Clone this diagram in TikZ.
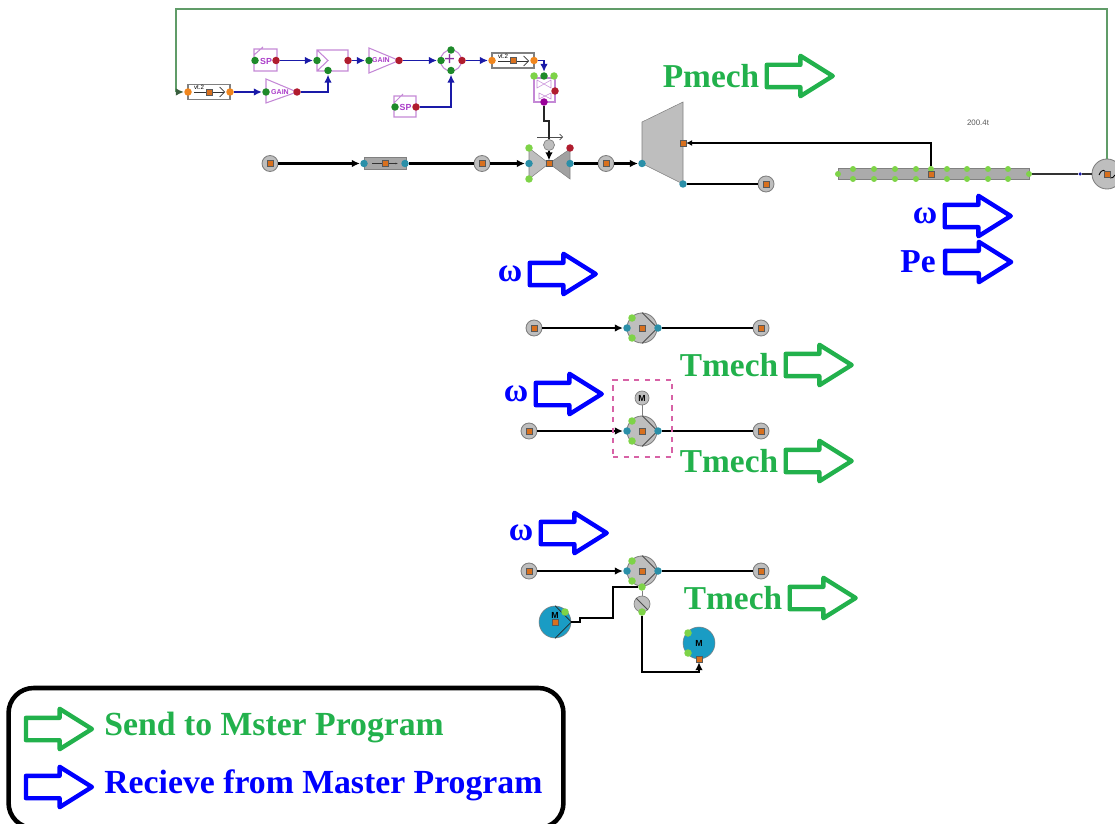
\documentclass[tikz,border=0pt]{standalone}
\usepackage{fontspec}
\setmainfont{Liberation Serif}
\newfontfamily\blockfont{Liberation Sans}
\definecolor{sendgreen}{RGB}{34,177,76}
\definecolor{recvblue}{RGB}{0,0,255}
\definecolor{linkblue}{RGB}{26,26,168}
\definecolor{fbgreen}{RGB}{96,156,104}
\definecolor{blockpurple}{RGB}{196,136,214}
\definecolor{blocktextpurple}{RGB}{170,60,200}
\definecolor{comptgray}{RGB}{190,190,190}
\definecolor{sqorange}{RGB}{216,112,30}
\definecolor{portorange}{RGB}{240,134,30}
\definecolor{portteal}{RGB}{42,143,168}
\definecolor{portred}{RGB}{176,28,46}
\definecolor{portgreen}{RGB}{30,138,42}
\definecolor{portlime}{RGB}{126,211,72}
\definecolor{motorblue}{RGB}{26,156,196}
\usetikzlibrary{calc, positioning, arrows.meta, shapes.arrows}
\begin{document}
\begin{tikzpicture}[x=0.02cm, y=-0.02cm,
    sendarrow/.style={single arrow, draw=sendgreen, line width=4.4*0.567pt, fill=white, minimum height=1.32cm,
      minimum width=0.72cm, inner xsep=0pt, inner ysep=0.18cm, single arrow head extend=0.18cm,
      single arrow tip angle=64, line join=round},
    recvarrow/.style={sendarrow, draw=recvblue},
    sendtext/.style={font=\bfseries\fontsize{19}{21}\selectfont, text=sendgreen, inner sep=0pt},
    recvtext/.style={sendtext, text=recvblue},
    bus/.style={circle, fill=comptgray, draw=gray, line width=0.5pt, minimum size=0.32cm, inner sep=0pt},
    machine/.style={circle, fill=comptgray, draw=gray, line width=0.5pt, minimum size=0.6cm, inner sep=0pt},
    sq/.style={rectangle, fill=sqorange, draw=gray!70!black, line width=0.2pt, minimum size=0.12cm, inner sep=0pt},
    port/.style={circle, fill=#1, minimum size=0.15cm, inner sep=0pt},
    blockbox/.style={draw=blockpurple, line width=0.6pt},
    vtbox/.style={draw=gray, fill=white, line width=0.6pt, minimum width=0.84cm, minimum height=0.3cm, inner sep=0pt},
    blocktext/.style={font=\blockfont\bfseries\fontsize{4}{4}\selectfont, text=blocktextpurple, inner sep=0pt},
    sptext/.style={font=\blockfont\bfseries\fontsize{5}{5}\selectfont, text=blocktextpurple, inner sep=0pt},
    mlabel/.style={font=\blockfont\bfseries\fontsize{5}{5}\selectfont, inner sep=0pt},
    ctrl/.style={draw=linkblue, line width=0.9pt, -{Latex[length=0.16cm, width=0.15cm]}},
    flow/.style={draw=black, line width=1.2pt, -{Latex[length=0.16cm, width=0.15cm]}},
    plain/.style={draw=black, line width=1.2pt},
  ]
    \clip (0,0) rectangle (1115,824);

    \foreach \nm/\x/\y in {busa/270/163.5, busb/482/163.5, busc/606/163.5, busd/766/184, buse/534/328, busf/761/328,
        busg/529/431, bush/761/431, busi/529/571, busj/761/571} {
      \node[bus] (\nm) at (\x,\y) {};
      \node[sq] (\nm sq) at (\nm) {};
    }

    \node[draw=gray, fill=gray!70, line width=0.5pt, minimum width=0.84cm, minimum height=0.24cm, inner sep=0pt] (pipe) at (385,163.5) {};
    \draw[gray!40!black, line width=0.3pt, -{Latex[length=0.05cm]}] (372,163.5) -- (398,163.5);
    \node[sq] (pipesq) at (385,163.5) {};
    \node[port=portteal] (pipein) at (364,163.5) {};
    \node[port=portteal] (pipeout) at (405,163.5) {};

    \fill[comptgray, draw=gray, line width=0.3pt] (529,148) -- (549,163.5) -- (529,179) -- cycle;
    \fill[comptgray!85!black, draw=gray, line width=0.3pt] (570,149) -- (549,163.5) -- (570,179) -- cycle;
    \node[sq] (valvesq) at (549,163.5) {};
    \node[port=portteal] (valvein) at (529,163.5) {};
    \node[port=portteal] (valveout) at (570,163.5) {};
    \node[port=portlime] (valvela) at (529,148) {};
    \node[port=portlime] (valvelb) at (529,179) {};
    \node[port=portred] (valver) at (570,148) {};
    \node[circle, fill=comptgray, draw=gray, line width=0.4pt, minimum size=0.22cm, inner sep=0pt] (actuator) at (549,145) {};
    \coordinate (actl) at (537,137);
    \coordinate (actr) at (563,137);
    \draw[gray!60!black, line width=0.4pt, -{Straight Barb[length=0.06cm]}] (actl) -- (actr);
    \draw[flow] (actuator) -- (valvesq);

    \fill[comptgray, draw=gray, line width=0.3pt] (642,122) -- (683,102) -- (683,184) -- (642,163.5) -- cycle;
    \node[port=portteal] (turbin) at (642,163.5) {};
    \node[port=portteal] (turbout) at (683,184) {};
    \node[sq] (turbsq) at (683,143) {};

    \draw[flow] (busa) -- (pipein);
    \draw[plain] (pipeout) -- (busb);
    \draw[flow] (busb) -- (valvein);
    \draw[plain] (valveout) -- (busc);
    \draw[flow] (busc) -- (turbin);
    \draw[plain] (turbout) -- (busd);

    \node[draw=gray, fill=comptgray!90!black, line width=0.3pt, minimum width=3.82cm, minimum height=0.22cm, inner sep=0pt] (shaft) at (933.5,174) {};
    \foreach \x in {853,874,895,916,947,967,988,1008} {
      \node[port=portlime, minimum size=0.12cm] (shafta\x) at (\x,169) {};
      \node[port=portlime, minimum size=0.12cm] (shaftb\x) at (\x,179) {};
    }
    \node[port=portlime, minimum size=0.12cm] (shaftl) at (838,174) {};
    \node[port=portlime, minimum size=0.12cm] (shaftr) at (1029,174) {};
    \node[port=portlime, minimum size=0.12cm] (shaftc) at (931,169) {};
    \node[sq] (shaftsq) at (931,174) {};
    \node[font=\blockfont\fontsize{4.5}{5}\selectfont, text=gray!70!black, inner sep=0pt] (speed) at (978,123) {200.4t};
    \coordinate (torquecorner) at (931,143);
    \draw[draw=black, line width=0.6pt, -{Latex[length=0.12cm, width=0.12cm]}] (shaftc) -- (torquecorner) -- (turbsq);

    \node[machine] (gen) at (1107,174) {};
    \node[circle, fill=linkblue, minimum size=0.07cm, inner sep=0pt] (genpt) at (1080,174) {};
    \draw[gray!40!black, line width=0.6pt] (shaftr) -- (genpt) -- (gen);
    \draw[black, line width=0.5pt] (1099,175) .. controls (1102,168) and (1105,170) .. (1107,174) .. controls (1109,178) and (1112,180) .. (1115,175);
    \node[sq] (gensq) at (gen) {};

    \coordinate (fbtop) at (1107,9);
    \coordinate (fbleft) at (176,9);
    \coordinate (fbdown) at (176,92);

    \node[vtbox] (vta) at (209,92) {};
    \node[font=\blockfont\fontsize{3.5}{4}\selectfont, inner sep=0pt] (vtatext) at (199,87) {vt.2};
    \draw[gray!40!black, line width=0.4pt, -{Straight Barb[length=0.1cm, width=0.2cm]}] (194,92) -- (225,92);
    \node[sq] (vtasq) at (vta) {};
    \node[port=portorange] (vtain) at (188,92) {};
    \node[port=portorange] (vtaout) at (230,92) {};
    \draw[fbgreen, line width=1.1pt] (gen.north) -- (fbtop) -- (fbleft) -- (fbdown);
    \draw[draw=fbgreen!60!black, line width=1pt, -{Latex[length=0.16cm, width=0.15cm]}] (fbdown) -- (vtain);

    \draw[blockbox] (266,79) -- (297,92) -- (266,103) -- cycle;
    \node[blocktext] (gainatext) at (280,92) {GAIN};
    \node[port=portgreen] (gainain) at (266,92) {};
    \node[port=portred] (gainaout) at (297,92) {};

    \draw[blockbox] (254,49) rectangle (277,71) (254,55) -- (263,47);
    \node[sptext] (spatext) at (266,61) {SP};
    \node[port=portgreen] (spaout0) at (255,60.5) {};
    \node[port=portred] (spaout) at (276,60.5) {};

    \draw[blockbox] (317,50) rectangle (348,71) (317,50) -- (328,60.5) -- (317,71);
    \node[port=portgreen] (selin) at (317,60.5) {};
    \node[port=portred] (selout) at (348,60.5) {};
    \node[port=portgreen] (selb) at (328,70.5) {};

    \draw[blockbox] (369,48) -- (399,60.5) -- (369,73) -- cycle;
    \node[blocktext] (gainbtext) at (381,60.5) {GAIN};
    \node[port=portgreen] (gainbin) at (369,60.5) {};
    \node[port=portred] (gainbout) at (399,60.5) {};

    \node[circle, draw=blockpurple, line width=0.6pt, minimum size=0.42cm, inner sep=0pt] (summer) at (451,60.5) {};
    \node[font=\bfseries\fontsize{11}{11}\selectfont, text=blocktextpurple!80!black, inner sep=0pt] (plus) at (449.5,60) {+};
    \node[port=portgreen] (sumin) at (441,60.5) {};
    \node[port=portred] (sumout) at (462,60.5) {};
    \node[port=portgreen] (sumtop) at (451,50) {};
    \node[port=portgreen] (sumb) at (451,70.5) {};

    \draw[blockbox] (394,96) rectangle (416,117) (394,103) -- (403,94);
    \node[sptext] (spbtext) at (405.5,107.5) {SP};
    \node[port=portgreen] (spbout0) at (395,107) {};
    \node[port=portred] (spbout) at (416,107) {};

    \node[vtbox] (vtb) at (513,60.5) {};
    \node[font=\blockfont\fontsize{3.5}{4}\selectfont, inner sep=0pt] (vtbtext) at (503,56) {vt.2};
    \draw[gray!40!black, line width=0.4pt, -{Straight Barb[length=0.1cm, width=0.2cm]}] (498,61) -- (529,61);
    \node[sq] (vtbsq) at (vtb) {};
    \node[port=portorange] (vtbin) at (492,60.5) {};
    \node[port=portorange] (vtbout) at (534,60.5) {};

    \draw[blockbox] (534,78) rectangle (555,102);
    \draw[blockpurple, line width=0.3pt] (537,80) -- (551,88) -- (551,80) -- (537,88) -- cycle (539,93) -- (551,99) -- (551,93) -- (539,99) -- cycle;
    \node[port=portlime] (valctla) at (534,76) {};
    \node[port=portlime] (valctlb) at (554,76) {};
    \node[port=portgreen] (valctlin) at (544,76) {};
    \node[port=portred] (valctlr) at (555,91) {};
    \node[port=violet!80!magenta] (valctlout) at (544,102) {};

    \draw[ctrl] (vtaout) -- (gainain);
    \draw[ctrl] (gainaout) -| (selb);
    \draw[ctrl] (spaout) -- (selin);
    \draw[ctrl] (selout) -- (gainbin);
    \draw[ctrl] (gainbout) -- (sumin);
    \draw[ctrl] (sumout) -- (vtbin);
    \draw[ctrl] (spbout) -| (sumb);
    \draw[ctrl] (vtbout) -| (valctlin);
    \coordinate (actbenda) at (544,121);
    \coordinate (actbendb) at (549,121);
    \draw[gray!30!black, line width=0.8pt] (valctlout) -- (actbenda) -- (actbendb) -- (actuator);

    \foreach \nm/\y in {mcha/328, mchb/431, mchc/571} {
      \node[machine] (\nm) at (642,\y) {};
      \draw[gray!60!black, line width=0.5pt] (\nm.north) -- (\nm.east) -- (\nm.south);
      \node[sq] (\nm sq) at (\nm) {};
      \node[port=portteal] (\nm in) at (627,\y) {};
      \node[port=portteal] (\nm out) at (658,\y) {};
      \node[port=portlime] (\nm a) at (632,\y-10) {};
      \node[port=portlime] (\nm b) at (632,\y+10) {};
    }
    \draw[flow] (buse) -- (mchain);
    \draw[plain] (mchaout) -- (busf);
    \draw[flow] (busg) -- (mchbin);
    \draw[plain] (mchbout) -- (bush);
    \draw[flow] (busi) -- (mchcin);
    \draw[plain] (mchcout) -- (busj);

    \node[draw=magenta!60!violet!70, dashed, line width=0.6pt, minimum width=1.18cm, minimum height=1.54cm, inner sep=0pt] (mchbframe) at (642.5,418.5) {};
    \node[circle, fill=comptgray, draw=gray, line width=0.4pt, minimum size=0.28cm, inner sep=0pt] (mchbm) at (642,398) {};
    \node[mlabel] (mchbmtext) at (mchbm) {M};
    \draw[gray, line width=0.5pt] (mchbm) -- (mchb);

    \coordinate (lnkd) at (613,587);
    \node[port=portlime] (mchcc) at (642,587) {};
    \node[circle, fill=comptgray, draw=gray, line width=0.4pt, minimum size=0.32cm, inner sep=0pt] (clutch) at (642,604) {};
    \draw[gray!60!black, line width=0.5pt] (clutch.north west) -- (clutch.south east);
    \node[port=portlime] (clutchb) at (642,612) {};
    \draw[gray, line width=0.5pt] (mchcc) -- (clutch);

    \node[circle, fill=motorblue, draw=gray, line width=0.3pt, minimum size=0.64cm, inner sep=0pt] (motora) at (555,622) {};
    \draw[gray!30!black, line width=0.4pt] (motora.north) -- (motora.east) -- (motora.south);
    \node[mlabel] (motoratext) at (555,615) {M};
    \node[sq] (motorasq) at (555,622) {};
    \node[port=portlime] (motoraa) at (565,612) {};
    \coordinate (lnka) at (580,622);
    \coordinate (lnkb) at (580,618);
    \coordinate (lnkc) at (613,618);
    \draw[plain] (motora.east) -- (lnka) -- (lnkb) -- (lnkc) -- (lnkd) -- (mchcc);

    \node[circle, fill=motorblue, draw=gray, line width=0.3pt, minimum size=0.64cm, inner sep=0pt] (motorb) at (699,643) {};
    \node[mlabel] (motorbtext) at (motorb) {M};
    \node[port=portlime] (motorba) at (688,633) {};
    \node[port=portlime] (motorbb) at (688,653) {};
    \node[sq] (motorbsq) at (699,659) {};
    \coordinate (lnke) at (642,672);
    \coordinate (lnkf) at (699,672);
    \draw[flow] (clutchb) -- (lnke) -- (lnkf) -- (motorbsq);

    \node[sendtext] (pmech) at (711,76) {Pmech};
    \node[sendarrow, right=0.1cm of pmech] (pmecharrow) {};
    \node[recvtext] (omegaa) at (925,216) {ω};
    \node[recvarrow, right=0.1cm of omegaa] (omegaaarrow) {};
    \node[recvtext] (pe) at (918,262) {Pe};
    \node[recvarrow, right=0.14cm of pe] (pearrow) {};
    \node[recvtext] (omegab) at (510,274) {ω};
    \node[recvarrow, right=0.1cm of omegab] (omegabarrow) {};
    \node[sendtext] (tmecha) at (729,365) {Tmech};
    \node[sendarrow, right=0.1cm of tmecha] (tmechaarrow) {};
    \node[recvtext] (omegac) at (516,394) {ω};
    \node[recvarrow, right=0.1cm of omegac] (omegacarrow) {};
    \node[sendtext] (tmechb) at (729,461) {Tmech};
    \node[sendarrow, right=0.1cm of tmechb] (tmechbarrow) {};
    \node[recvtext] (omegad) at (521,533) {ω};
    \node[recvarrow, right=0.1cm of omegad] (omegadarrow) {};
    \node[sendtext] (tmechc) at (733,598) {Tmech};
    \node[sendarrow, right=0.1cm of tmechc] (tmechcarrow) {};

    \node[draw=black, line width=2.6pt, rounded corners=0.5cm, minimum width=11.1cm, minimum height=2.8cm, inner sep=0pt] (legend) at (286,758) {};
    \node[sendarrow] (legendsend) at (50,729) {};
    \node[recvarrow] (legendrecv) at (50,787) {};
    \node[sendtext, anchor=west, font=\bfseries\fontsize{19.2}{21}\selectfont] (legendsendtext) at (104,728) {Send to Mster Program};
    \node[recvtext, anchor=west, font=\bfseries\fontsize{19.2}{21}\selectfont] (legendrecvtext) at (104,785) {Recieve from Master Program};
\end{tikzpicture}
\end{document}
